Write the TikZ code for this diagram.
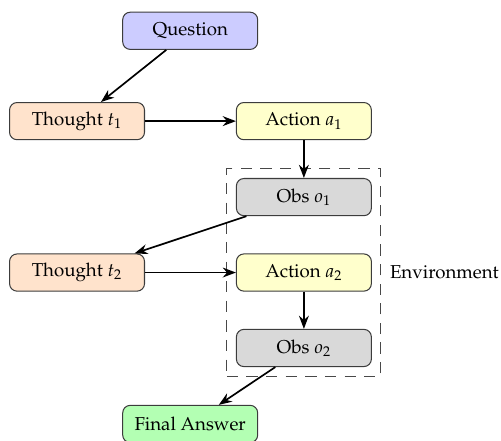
\documentclass[tikz,border=0pt]{standalone}
\usepackage[T1]{fontenc}
\usepackage{mathpazo}
\usepackage{tikz}
\usetikzlibrary{positioning,fit,arrows.meta}
\definecolor{ink}     {HTML}{1A1A1A}
\definecolor{qfill}   {HTML}{CCCCFF}
\definecolor{tfill}   {HTML}{FFE3CC}
\definecolor{afill}   {HTML}{FFFFCC}
\definecolor{ofill}   {HTML}{D9D9D9}
\definecolor{ansfill} {HTML}{B3FFB3}
\tikzset{
  % --- nodes
  stepnode/.style = {rounded corners=4pt, draw=ink!85, line width=0.55pt,
                     minimum width=25.4mm, minimum height=7mm, align=center},
  qnode/.style    = {stepnode, fill=qfill},
  tnode/.style    = {stepnode, fill=tfill},
  anode/.style    = {stepnode, fill=afill},
  onode/.style    = {stepnode, fill=ofill},
  ansnode/.style  = {stepnode, fill=ansfill},
  envbox/.style   = {draw=ink!80, dash pattern=on 6pt off 4.5pt, line width=0.55pt,
                     inner sep=1.7mm},
  % --- edges
  e/.style        = {-Stealth, line width=0.9pt, draw=black},
}
\begin{document}
\begin{tikzpicture}[x=1mm,y=1mm]
  \useasboundingbox (0,0) rectangle (94.3,-83);
  \node[qnode]   (quest) at (35.8,-5.8)  {Question};
  \node[tnode]   (th1)   at (14.5,-22.8) {Thought $t_1$};
  \node[anode]   (act1)  at (57.2,-22.8) {Action $a_1$};
  \node[onode]   (obs1)  at (57.2,-37.1) {Obs $o_1$};
  \node[tnode]   (th2)   at (14.5,-51.3) {Thought $t_2$};
  \node[anode]   (act2)  at (57.2,-51.3) {Action $a_2$};
  \node[onode]   (obs2)  at (57.2,-65.5) {Obs $o_2$};
  \node[ansnode] (ans)   at (35.8,-79.8) {Final Answer};
  % environment frame
  \node[envbox, fit=(obs1)(act2)(obs2)] (env) {};
  \node[anchor=west, inner sep=1pt] (envlbl) at ([xshift=1.2mm]env.east |- act2) {Environment};
  \draw[e] (quest) -- (th1);
  \draw[e] (th1) -- (act1);
  \draw[e] (act1) -- (obs1);
  \draw[e] (obs1) -- (th2);
  \draw[e] (th2) -- (act2);
  \draw[e] (act2) -- (obs2);
  \draw[e] (obs2) -- (ans);
\end{tikzpicture}
\end{document}
